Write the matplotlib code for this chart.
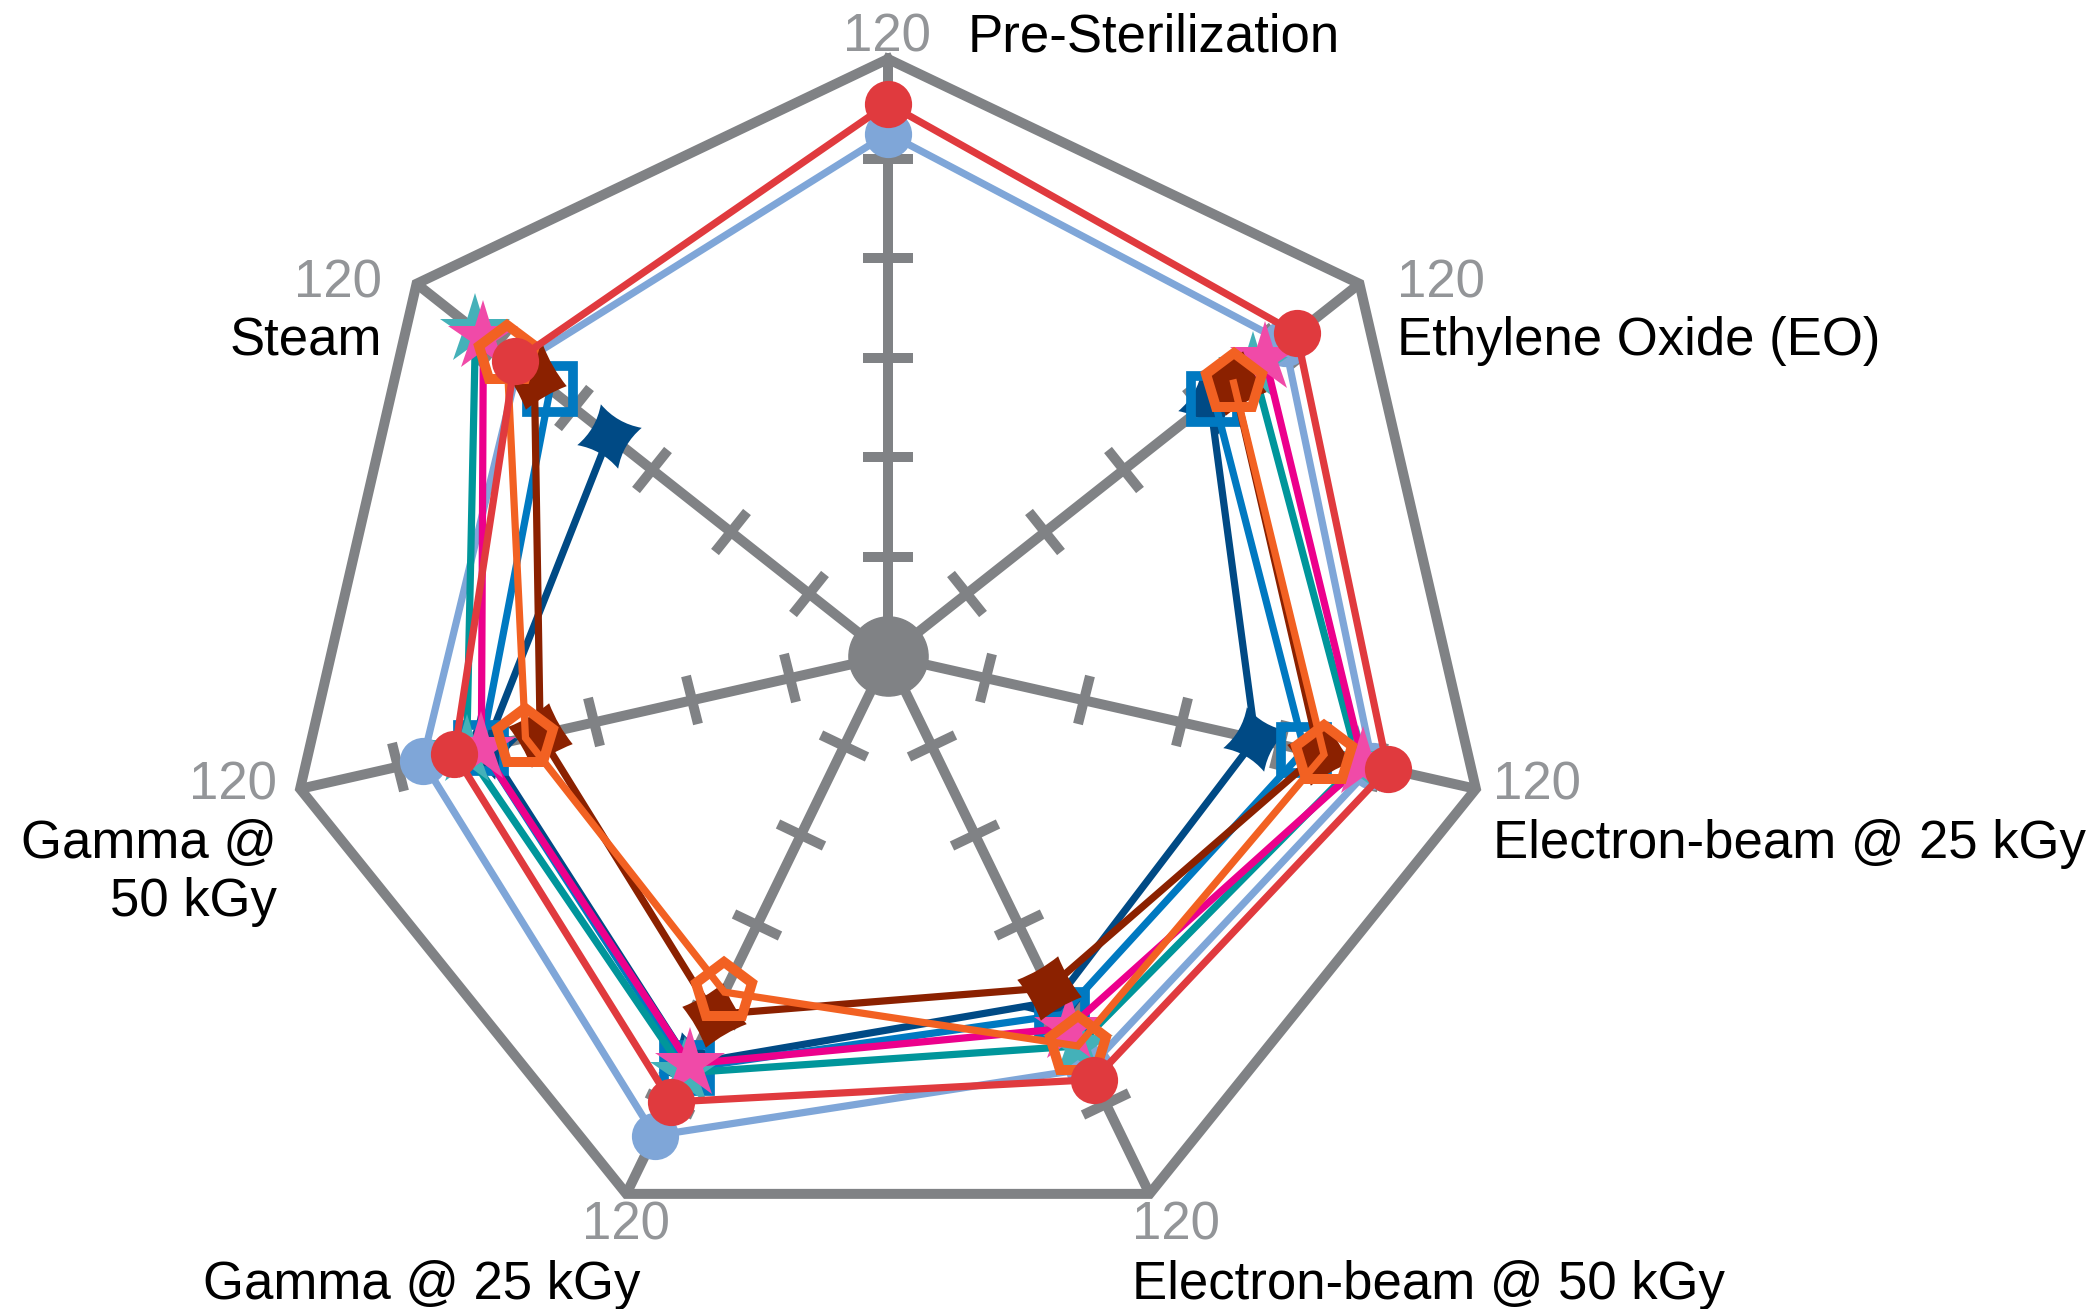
import numpy as np
import matplotlib
matplotlib.use("Agg")
import matplotlib.pyplot as plt
from matplotlib.markers import MarkerStyle
from matplotlib.path import Path
from matplotlib.transforms import Affine2D

# ---------------- data ----------------
categories = ["Pre-Sterilization", "Ethylene Oxide (EO)", "Electron-beam @ 25 kGy",
              "Electron-beam @ 50 kGy", "Gamma @ 25 kGy", "Gamma @ 50 kGy", "Steam"]
max_value = 120
tick_values = [20, 40, 60, 80, 100]
nan = np.nan
light_blue_vals = [105, 101, 99, 92, 107, 95, 94]
red_vals = [111, 104, 102, 94.5, 99.5, 88.5, 95]
teal_vals = [nan, 93, 96, 87, 93, 86, 105]
magenta_vals = [nan, 96, 97, 83, 91, 83, 103]
blue_vals = [nan, 83, 85, 80, 92, 83, 86]
dark_blue_vals = [nan, 82, 75, 77, 91, 82, 71]
dark_red_vals = [nan, 88, 88, 74, 80, 71, 90]
orange_vals = [nan, 88, 89, 87, 75, 74, 97]

plt.rcParams['font.family'] = ['Liberation Sans', 'DejaVu Sans']

W, H = 2100, 1309
fig = plt.figure(figsize=(W / 100, H / 100), dpi=100)

cx, cy, rx, ry = 888, 656, 603, 597
ax = fig.add_axes([(cx - rx) / W, 1 - (cy + ry) / H, 2 * rx / W, 2 * ry / H],
                  projection='polar')
ax.set_aspect('auto')
ax.set_theta_zero_location('N')
ax.set_theta_direction(-1)
ax.set_ylim(0, max_value)
ax.axis('off')

n = len(categories)
theta = np.linspace(0, 2 * np.pi, n, endpoint=False)

gray = '#808285'
gray_lbl = '#939598'

# spokes
for t in theta:
    ax.plot([t, t], [0, max_value], color=gray, lw=7.2, solid_capstyle='butt',
            zorder=1, clip_on=False)
# outer frame
ax.plot(np.append(theta, theta[0]), [max_value] * (n + 1), color=gray, lw=7.2,
        solid_joinstyle='miter', zorder=1, clip_on=False)
# tick bars
for t in theta:
    ms_ = MarkerStyle('_', transform=Affine2D().rotate_deg(-np.degrees(t)))
    ax.plot([t] * len(tick_values), tick_values, ls='none', marker=ms_, ms=36,
            mew=7.2, color=gray, zorder=1, clip_on=False)
# centre dot
ax.plot([0], [0], 'o', ms=57, color=gray, zorder=1.5, clip_on=False)


def concave_diamond(k):
    verts = [(0, 1), (k, k), (1, 0), (k, -k), (0, -1), (-k, -k), (-1, 0), (-k, k), (0, 1), (0, 1)]
    codes = [Path.MOVETO] + [Path.CURVE3] * 8 + [Path.CLOSEPOLY]
    return Path(verts, codes)


dia_blue = MarkerStyle(concave_diamond(0.32), transform=Affine2D().rotate_deg(15))
dia_red = MarkerStyle(concave_diamond(0.42), transform=Affine2D().rotate_deg(-15))

thc = np.append(theta, theta[0])


def closed(v):
    return np.append(v, v[0])


lw = 5.2
# order: bottom to top
series = [
    dict(v=light_blue_vals, c='#7FA6D8', m='o', ms=34, mfc='#7FA6D8', mec='#7FA6D8', mew=0, close=True),
    dict(v=dark_blue_vals, c='#004A85', m=dia_blue, ms=48, mfc='#004A85', mec='#004A85', mew=0, close=False),
    dict(v=blue_vals, c='#0079C1', m='s', ms=33, mfc='none', mec='#0079C1', mew=7, close=False),
    dict(v=teal_vals, c='#00969B', m='*', ms=53, mfc='#44B1B9', mec='#44B1B9', mew=0, close=False),
    dict(v=magenta_vals, c='#EC008C', m='*', ms=53, mfc='#F04AA8', mec='#F04AA8', mew=0, close=False),
    dict(v=dark_red_vals, c='#8B2100', m=dia_red, ms=48, mfc='#8B2100', mec='#8B2100', mew=0, close=False),
    dict(v=orange_vals, c='#F26122', m='p', ms=43, mfc='none', mec='#F26122', mew=7.2, close=False),
    dict(v=red_vals, c='#E03A3E', m='o', ms=34, mfc='#E03A3E', mec='#E03A3E', mew=0, close=True),
]

for i, s in enumerate(series):
    v = np.asarray(s['v'], dtype=float)
    z = 3 + i
    if s['close']:
        ax.plot(thc, closed(v), color=s['c'], lw=lw, zorder=z, clip_on=False,
                solid_joinstyle='miter')
    else:
        ax.plot(theta[1:], v[1:], color=s['c'], lw=lw, zorder=z, clip_on=False,
                solid_joinstyle='miter')
    ax.plot(theta, v, ls='none', marker=s['m'], ms=s['ms'], mfc=s['mfc'],
            mec=s['mec'], mew=s['mew'], zorder=z + 0.5, clip_on=False)

# ---------------- labels ----------------
fs = 38


def ftext(x, y, s, ha, color='black'):
    fig.text(x / W, 1 - y / H, s, ha=ha, va='baseline', fontsize=fs, color=color)


ftext(931, 52, "120", 'right', gray_lbl)
ftext(968, 52, categories[0], 'left')
ftext(1397, 297, "120", 'left', gray_lbl)
ftext(1397, 355, categories[1], 'left')
ftext(1493, 800, "120", 'left', gray_lbl)
ftext(1493, 858, categories[2], 'left')
ftext(1132, 1240, "120", 'left', gray_lbl)
ftext(1132, 1299, categories[3], 'left')
ftext(670, 1240, "120", 'right', gray_lbl)
ftext(640, 1299, categories[4], 'right')
ftext(277, 800, "120", 'right', gray_lbl)
ftext(277, 858, "Gamma @", 'right')
ftext(277, 916, "50 kGy", 'right')
ftext(382, 297, "120", 'right', gray_lbl)
ftext(382, 355, categories[6], 'right')

fig.savefig('out.png', dpi=100, facecolor='white')
